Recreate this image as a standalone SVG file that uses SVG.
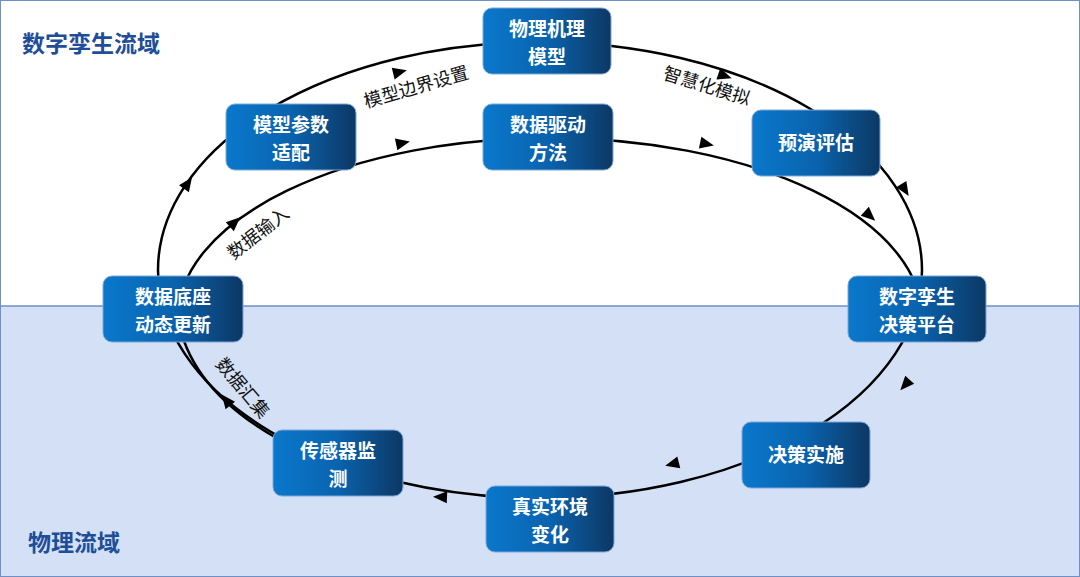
<svg xmlns="http://www.w3.org/2000/svg" width="1080" height="577" viewBox="0 0 1080 577">
<style>
.n rect{fill:url(#g);stroke:#7FA6D8;stroke-width:1}
.n text{fill:#fff;font:bold 19px "Noto Sans CJK SC",sans-serif;text-anchor:middle}
.l{fill:#111;font:18px "Noto Sans CJK SC",sans-serif;text-anchor:middle}
.t{fill:#1F4E99;font:bold 23px "Noto Sans CJK SC",sans-serif}
.c path{fill:none;stroke:#000;stroke-width:2.5}
.a{fill:#000}
</style>
<defs>
<linearGradient id="g" x1="0" x2="1"><stop offset="0" stop-color="#0A78CC"/><stop offset="0.5" stop-color="#0A63AE"/><stop offset="1" stop-color="#0C3864"/></linearGradient>
<polygon id="ah" points="7,0 -7,-6 -7,6"/>
</defs>
<rect width="1080" height="577" fill="#fff"/>
<rect y="306" width="1080" height="271" fill="#D3E0F5"/>
<line x1="0" y1="306" x2="1080" y2="306" stroke="#6F8FC7" stroke-width="1.5"/>
<rect x="0.5" y="0.5" width="1079" height="576" fill="none" stroke="#6F8FC7"/>
<text class="t" x="22" y="52">数字孪生流域</text>
<text class="t" x="28" y="551">物理流域</text>
<g class="c">
<ellipse cx="540" cy="270" rx="382" ry="228" fill="none" stroke="#000" stroke-width="2.5"/>
<path d="M178,318 A372,180 0 0 1 922,318"/>
<path d="M178,318 Q190,390 280,440"/>
<g class="a">
<use href="#ah" transform="translate(400,72) rotate(-14)"/>
<use href="#ah" transform="translate(725,76) rotate(19)"/>
<use href="#ah" transform="translate(905,190) rotate(58)"/>
<use href="#ah" transform="translate(905,385) rotate(132)"/>
<use href="#ah" transform="translate(672,464) rotate(166)"/>
<use href="#ah" transform="translate(440,497) rotate(182)"/>
<use href="#ah" transform="translate(226,400) rotate(232)"/>
<use href="#ah" transform="translate(188,183) rotate(-55)"/>
<use href="#ah" transform="translate(403,143) rotate(-12)"/>
<use href="#ah" transform="translate(707,144) rotate(12)"/>
<use href="#ah" transform="translate(870,216) rotate(42)"/>
<use href="#ah" transform="translate(235,222) rotate(-42)"/>
</g>
<text class="l" transform="translate(418,93) rotate(-16)">模型边界设置</text>
<text class="l" transform="translate(705,92) rotate(17)">智慧化模拟</text>
<text class="l" transform="translate(262,238) rotate(-38)">数据输入</text>
<text class="l" transform="translate(238,392) rotate(50)">数据汇集</text>
</g>
<g id="n1" class="n"><rect x="483" y="8" width="128" height="66" rx="9"/><text x="547" y="36">物理机理</text><text x="547" y="64">模型</text></g>
<g id="n2" class="n"><rect x="226" y="104" width="130" height="66" rx="9"/><text x="291" y="132">模型参数</text><text x="291" y="160">适配</text></g>
<g id="n3" class="n"><rect x="483" y="104" width="130" height="66" rx="9"/><text x="548" y="132">数据驱动</text><text x="548" y="160">方法</text></g>
<g id="n4" class="n"><rect x="752" y="110" width="128" height="66" rx="9"/><text x="816" y="150">预演评估</text></g>
<g id="n5" class="n"><rect x="848" y="276" width="138" height="66" rx="9"/><text x="917" y="304">数字孪生</text><text x="917" y="332">决策平台</text></g>
<g id="n6" class="n"><rect x="742" y="422" width="128" height="66" rx="9"/><text x="806" y="462">决策实施</text></g>
<g id="n7" class="n"><rect x="486" y="486" width="128" height="66" rx="9"/><text x="550" y="514">真实环境</text><text x="550" y="542">变化</text></g>
<g id="n8" class="n"><rect x="273" y="430" width="130" height="66" rx="9"/><text x="338" y="458">传感器监</text><text x="338" y="486">测</text></g>
<g id="n9" class="n"><rect x="103" y="276" width="140" height="66" rx="9"/><text x="173" y="304">数据底座</text><text x="173" y="332">动态更新</text></g>
</svg>
